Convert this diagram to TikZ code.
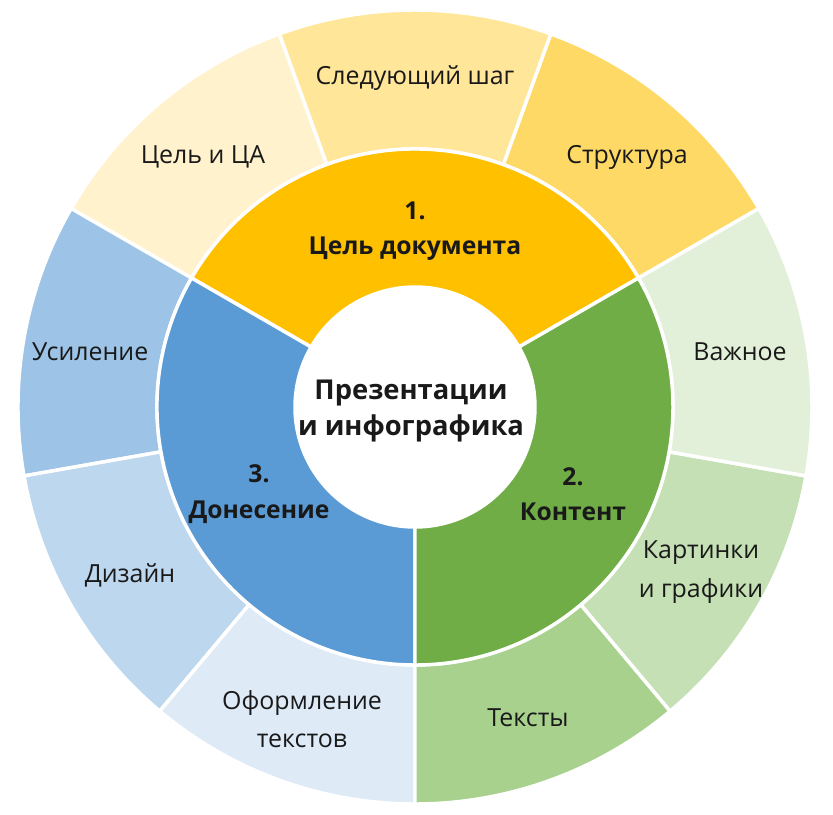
\documentclass[tikz,border=0pt]{standalone}
\usepackage{fontspec}
\setmainfont{Open Sans}
\definecolor{yMain}{HTML}{FFC000}
\definecolor{yA}{HTML}{FFF2CC}
\definecolor{yB}{HTML}{FFE699}
\definecolor{yC}{HTML}{FFD966}
\definecolor{gMain}{HTML}{70AD47}
\definecolor{gA}{HTML}{E2F0D9}
\definecolor{gB}{HTML}{C5E0B4}
\definecolor{gC}{HTML}{A9D18E}
\definecolor{bMain}{HTML}{5B9BD5}
\definecolor{bA}{HTML}{9DC3E6}
\definecolor{bB}{HTML}{BDD7EE}
\definecolor{bC}{HTML}{DEEBF7}
\tikzset{
  seg/.style={draw=white, line width=2.6pt, line join=round},
  outerlbl/.style={font=\fontsize{18.7}{29}\selectfont, text=black!90, align=center, inner sep=0pt},
  innerlbl/.style={font=\fontsize{18.5}{26.5}\selectfont\bfseries, text=black!90, align=center, inner sep=0pt},
  centerlbl/.style={font=\fontsize{20.5}{27}\selectfont\bfseries, text=black!90, align=center, inner sep=0pt},
}
\newcommand{\sector}[5]{% color, a1, a2, rin, rout
  \filldraw[seg, fill=#1] (#2:#4) -- (#2:#5) arc[start angle=#2, end angle=#3, radius=#5]
    -- (#3:#4) arc[start angle=#3, end angle=#2, radius=#4] -- cycle;}
\begin{document}
\begin{tikzpicture}[x=0.75pt,y=0.75pt]
\useasboundingbox (-415,-408) rectangle (418,407);
% outer ring
\sector{yC}{30}{70}{258}{397}
\sector{yB}{70}{110}{258}{397}
\sector{yA}{110}{150}{258}{397}
\sector{bA}{150}{190}{258}{397}
\sector{bB}{190}{230}{258}{397}
\sector{bC}{230}{270}{258}{397}
\sector{gC}{270}{310}{258}{397}
\sector{gB}{310}{350}{258}{397}
\sector{gA}{350}{390}{258}{397}
% inner ring
\sector{yMain}{30}{150}{120}{258}
\sector{bMain}{150}{270}{120}{258}
\sector{gMain}{270}{390}{120}{258}
\fill[white] (0,0) circle[radius=120];
% labels (pixel coords: x-415, 407-y)
\node[outerlbl] (next) at (0,329) {Следующий шаг};
\node[outerlbl] (goal) at (-212,250) {Цель и ЦА};
\node[outerlbl] (struct) at (212,250) {Структура};
\node[outerlbl] (amp) at (-325,55) {Усиление};
\node[outerlbl] (imp) at (325,55) {Важное};
\node[outerlbl] (design) at (-285,-168) {Дизайн};
\node[outerlbl] (pics) at (286,-165) {Картинки\\и графики};
\node[outerlbl] (texts) at (113,-311) {Тексты};
\node[outerlbl] (fmt) at (-113,-312) {Оформление\\текстов};
\node[innerlbl] (c1) at (0,176) {1.\\Цель документа};
\node[innerlbl] (c2) at (158,-87) {2.\\Контент};
\node[innerlbl] (c3) at (-156,-87) {3.\\Донесение};
\node[centerlbl] (center) at (-4,-4) {Презентации\\и инфографика};
\end{tikzpicture}
\end{document}
